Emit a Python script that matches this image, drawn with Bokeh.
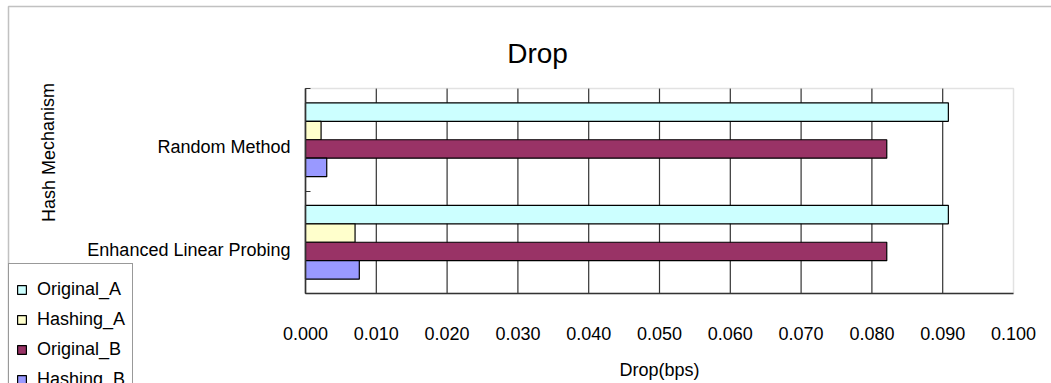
from bokeh.plotting import figure
from bokeh.models import (ColumnDataSource, Range1d, Label, Legend, LegendItem, LinearAxis,
                          FixedTicker, NumeralTickFormatter, BoxAnnotation)
from bokeh.transform import dodge
from bokeh.embed import file_html
from bokeh.resources import INLINE

# ---- data ----
categories = ["Random Method", "Enhanced Linear Probing"]
series_names = ["Original_A", "Hashing_A", "Original_B", "Hashing_B"]
original_a = [0.0908, 0.0908]
hashing_a = [0.0022, 0.0070]
original_b = [0.0821, 0.0821]
hashing_b = [0.0030, 0.0076]
x_ticks = [0.00, 0.01, 0.02, 0.03, 0.04, 0.05, 0.06, 0.07, 0.08, 0.09, 0.10]
colors = ["#CCFFFF", "#FFFFCC", "#993366", "#9999FF"]
offsets = [0.27, 0.09, -0.09, -0.27]

FONT = "Liberation Sans"
W, H = 1051, 383
# plot-area placement inside the canvas (pixels)
PL, PR, PT, PB = 305, 1013, 88, 293

n = len(categories)
ypos = [n - i - 0.5 for i in range(n)]
source = ColumnDataSource(dict(cat=categories, ypos=ypos, Original_A=original_a, Hashing_A=hashing_a,
                               Original_B=original_b, Hashing_B=hashing_b))

xmin, xmax = x_ticks[0], x_ticks[-1]
xs = (xmax - xmin) / (PR - PL)
ys = n / (PB - PT)
x_range = Range1d(xmin - PL * xs, xmax + (W - PR) * xs)
y_range = Range1d(0 - (H - PB) * ys, n + PT * ys)

p = figure(width=W, height=H, output_backend="svg", toolbar_location=None,
           x_range=x_range, y_range=y_range, x_axis_location=None, y_axis_location=None,
           min_border=0, min_border_left=0, min_border_right=0, min_border_top=0, min_border_bottom=0)
p.title.visible = False
p.outline_line_color = None
p.xgrid.visible = False
p.ygrid.visible = False

# plot area outline (grey)
p.add_layout(BoxAnnotation(left=xmin, right=xmax, bottom=0, top=n, fill_color=None,
                           line_color="#a0a0a0", line_width=1.5, level="underlay"))

# vertical gridlines limited to the plot area
grid_x = x_ticks[:-1]
p.segment(x0=grid_x, x1=grid_x, y0=[0] * len(grid_x), y1=[n] * len(grid_x),
          line_color="#333333", line_width=1.2, level="underlay")

renderers = []
for name, col, off in zip(series_names, colors, offsets):
    r = p.hbar(y=dodge("ypos", off), right=name, left=0, height=0.18,
               source=source, fill_color=col, line_color="black", line_width=1.2)
    renderers.append(r)

# x axis
xaxis = LinearAxis(fixed_location=0, bounds=(xmin, xmax), ticker=FixedTicker(ticks=x_ticks),
                   formatter=NumeralTickFormatter(format="0.000"))
xaxis.major_tick_line_color = None
xaxis.minor_tick_line_color = None
xaxis.major_tick_in = 0
xaxis.major_tick_out = 0
xaxis.major_label_standoff = 33
xaxis.major_label_text_font = FONT
xaxis.major_label_text_font_size = "18px"
xaxis.major_label_text_color = "black"
xaxis.axis_line_color = "#333333"
xaxis.axis_line_width = 1.5
p.add_layout(xaxis, "below")

# y axis (categories); labels sit slightly below the category centre as in the original
label_pos = [y - 0.075 for y in ypos]
yaxis = LinearAxis(fixed_location=xmin, bounds=(0, n),
                   ticker=FixedTicker(ticks=label_pos, minor_ticks=list(range(n + 1))))
yaxis.major_label_overrides = {y: c for y, c in zip(label_pos, categories)}
yaxis.major_tick_line_color = None
yaxis.major_tick_in = 0
yaxis.major_tick_out = 0
yaxis.minor_tick_in = 5
yaxis.minor_tick_out = 0
yaxis.minor_tick_line_color = "#333333"
yaxis.major_label_standoff = 15
yaxis.major_label_text_font = FONT
yaxis.major_label_text_font_size = "18px"
yaxis.major_label_text_color = "black"
yaxis.axis_line_color = "#333333"
yaxis.axis_line_width = 1.5
p.add_layout(yaxis, "left")

# outer chart border (top & left edges visible)
p.add_layout(BoxAnnotation(left=8, right=W + 50, top=H - 6, bottom=-50,
                           left_units="screen", right_units="screen",
                           top_units="screen", bottom_units="screen",
                           fill_color=None, line_color="#333333", line_width=1.5))

# texts
p.add_layout(Label(x=537, y=H - 53, x_units="screen", y_units="screen", text="Drop",
                   text_font=FONT, text_font_size="28px", text_align="center",
                   text_baseline="middle", text_color="black"))
p.add_layout(Label(x=(PL + PR) / 2, y=H - 369, x_units="screen", y_units="screen", text="Drop(bps)",
                   text_font=FONT, text_font_size="18px", text_align="center",
                   text_baseline="middle", text_color="black"))
p.add_layout(Label(x=48, y=H - 152, x_units="screen", y_units="screen", text="Hash Mechanism",
                   text_font=FONT, text_font_size="18px", text_align="center",
                   text_baseline="middle", angle=1.5708, text_color="black"))

legend = Legend(items=[LegendItem(label=nm, renderers=[r]) for nm, r in zip(series_names, renderers)],
                location=(8, -15), orientation="vertical",
                title=" ", title_text_font_size="5px", title_standoff=2,
                label_text_font=FONT, label_text_font_size="18px", label_text_color="black",
                glyph_width=11, glyph_height=11, label_standoff=10, spacing=9, label_height=20,
                padding=7, margin=0, border_line_color="#333333", border_line_width=1.5,
                background_fill_color="white", background_fill_alpha=1)
p.add_layout(legend)

open("out.html", "w").write(file_html(p, INLINE))
